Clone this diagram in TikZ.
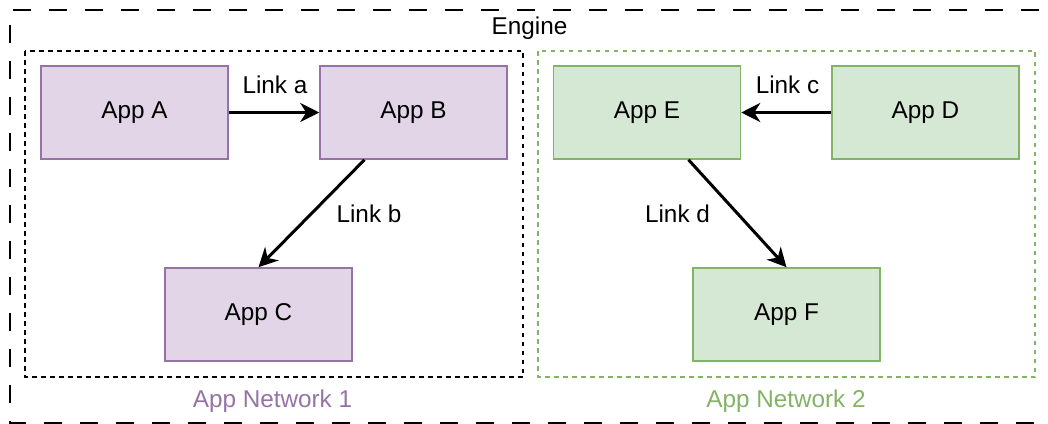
\documentclass[tikz,border=0pt]{standalone}
\usepackage{fontspec}
\setmainfont{Liberation Sans}
\usetikzlibrary{arrows.meta,calc}
\definecolor{pstroke}{HTML}{9673A6}
\definecolor{pfill}{HTML}{E1D5E7}
\definecolor{gstroke}{HTML}{82B366}
\definecolor{gfill}{HTML}{D5E8D4}
\begin{document}
\begin{tikzpicture}[x=1pt,y=-1pt,
  font=\fontsize{24.3}{29}\selectfont,
  appbox/.style={draw, line width=1.5pt, minimum width=187pt, minimum height=93pt, inner sep=0pt, anchor=center},
  purplebox/.style={appbox, draw=pstroke, fill=pfill},
  greenbox/.style={appbox, draw=gstroke, fill=gfill},
  link/.style={draw=black, line width=3pt, -{Stealth[length=19pt,width=19pt,inset=6pt]}},
  lbl/.style={inner sep=0pt, anchor=center},
  netframe/.style={line width=1.5pt, dash pattern=on 4.5pt off 4.5pt}
]
\useasboundingbox (0,0) rectangle (1048,423);
% outer engine frame
\draw[line width=1.5pt, dash pattern=on 18pt off 18pt] (1070,423) -- (10,423) -- (10,10) -- (1070,10);
\node[lbl] (engine) at (529.5,28) {Engine};
% network frames
\draw[netframe, draw=black] (25,51) rectangle (523,377);
\draw[netframe, draw=gstroke] (538,51) rectangle (1035,377);
\node[lbl, text=pstroke] (net1) at (272.5,401) {App Network 1};
\node[lbl, text=gstroke] (net2) at (786,401) {App Network 2};
% apps
\node[purplebox] (A) at (134.5,112.5) {App A};
\node[purplebox] (B) at (413.5,112.5) {App B};
\node[purplebox] (C) at (258.5,314.5) {App C};
\node[greenbox] (E) at (647,112.5) {App E};
\node[greenbox] (D) at (925.5,112.5) {App D};
\node[greenbox] (F) at (786.5,314.5) {App F};
% links
\draw[link] (A.east) -- (B.west);
\draw[link] ($(B.south west)!0.24!(B.south east)$) -- (C.north);
\draw[link] (D.west) -- (E.east);
\draw[link] ($(E.south west)!0.72!(E.south east)$) -- (F.north);
\node[lbl] (la) at (275,85) {Link a};
\node[lbl] (lb) at (369,214) {Link b};
\node[lbl] (lc) at (787.5,85) {Link c};
\node[lbl] (ld) at (677.5,214) {Link d};
\end{tikzpicture}
\end{document}
